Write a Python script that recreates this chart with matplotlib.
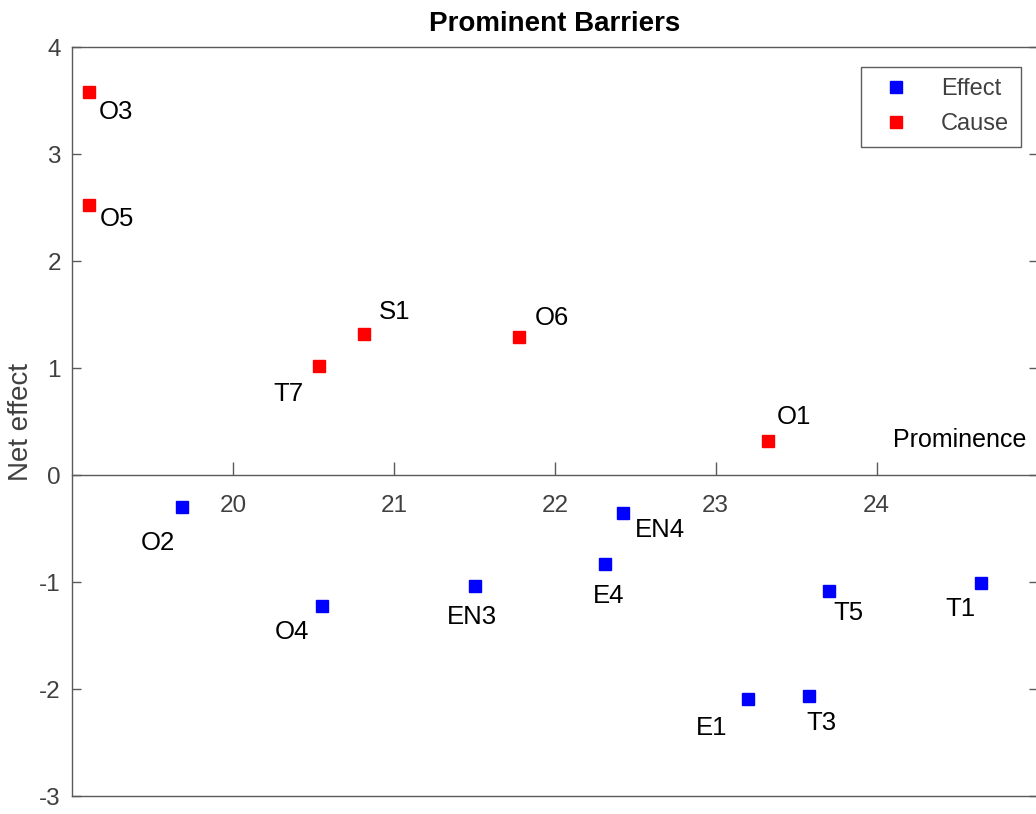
import matplotlib
matplotlib.use("Agg")
import matplotlib.pyplot as plt

# cause barriers (net effect > 0)
cause_names = ["O3", "O5", "S1", "T7", "O6", "O1"]
cause_prom = [19.108, 19.108, 20.816, 20.536, 21.778, 23.323]
cause_net = [3.582, 2.526, 1.323, 1.019, 1.295, 0.321]

# effect barriers (net effect < 0)
effect_names = ["O2", "O4", "EN3", "E4", "EN4", "E1", "T3", "T5", "T1"]
effect_prom = [19.683, 20.553, 21.504, 22.314, 22.422, 23.199, 23.580, 23.703, 24.647]
effect_net = [-0.296, -1.219, -1.032, -0.829, -0.355, -2.093, -2.063, -1.079, -1.004]

x_ticks = [20, 21, 22, 23, 24]
y_ticks = [-3, -2, -1, 0, 1, 2, 3, 4]

# label placement: (dx, dy) in pixels, horizontal alignment
label_pos = {
    "O3": (9, -20, "left"), "O5": (10, -14, "left"), "S1": (15, 22, "left"),
    "T7": (-16, -28, "right"), "O6": (16, 19, "left"), "O1": (9, 24, "left"),
    "O2": (-7, -36, "right"), "O4": (-13, -26, "right"), "EN3": (-3, -31, "center"),
    "E4": (3, -32, "center"), "EN4": (12, -17, "left"), "E1": (-20, -29, "right"),
    "T3": (-3, -27, "left"), "T5": (5, -22, "left"), "T1": (-5, -26, "right"),
}

narrow = ["Liberation Sans Narrow", "Liberation Sans", "DejaVu Sans"]
gray = "#5a5a5a"
txtgray = "#404040"

fig = plt.figure(figsize=(10.36, 8.14), dpi=100)
ax = fig.add_axes([0.0696, 0.0217, 0.9319, 0.9203])

ax.plot(effect_prom, effect_net, "s", color="blue", markersize=8.7, label="Effect", clip_on=False)
ax.plot(cause_prom, cause_net, "s", color="red", markersize=8.7, label="Cause", clip_on=False)

for names, xs, ys in [(cause_names, cause_prom, cause_net), (effect_names, effect_prom, effect_net)]:
    for n, x, y in zip(names, xs, ys):
        dx, dy, ha = label_pos[n]
        ax.annotate(n, (x, y), xytext=(dx * 0.72, dy * 0.72), textcoords="offset points",
                    ha=ha, va="center", fontsize=18.5, family=narrow, color="black")

ax.set_xlim(19, 25)
ax.set_ylim(-3, 4)

# x axis through the origin, box kept around
ax.spines["bottom"].set_position(("data", 0))
for s in ax.spines.values():
    s.set_color(gray)
    s.set_linewidth(1.0)
ax.axhline(-3, color=gray, lw=1.0, clip_on=False)

ax.set_xticks(x_ticks)
ax.set_xticklabels([str(t) for t in x_ticks], family=narrow)
ax.set_yticks(y_ticks)
ax.set_yticklabels([str(t) for t in y_ticks], family=narrow)
ax.tick_params(axis="x", direction="in", length=9.5, width=1, color=gray, labelsize=17.5,
               labelcolor=txtgray, pad=14, top=False)
ax.tick_params(axis="y", direction="in", length=6.5, width=1, color=gray, labelsize=17.5,
               labelcolor=txtgray, pad=8, right=True)

ax.set_title("Prominent Barriers", fontsize=20, fontweight="bold", family=narrow, pad=12)
ax.set_ylabel("Net effect", fontsize=20, color=txtgray, family=["Liberation Sans", "DejaVu Sans"], labelpad=4)
ax.text(0.9886, 0.476, "Prominence", transform=ax.transAxes, ha="right", va="center",
        fontsize=18, family=narrow, color="black")

leg = ax.legend(loc="upper right", bbox_to_anchor=(0.983, 0.974), frameon=True, fancybox=False,
                prop={"family": narrow, "size": 17}, handlelength=2.0, handletextpad=0.9,
                borderpad=0.5, labelspacing=0.55, borderaxespad=0)
leg.get_frame().set_edgecolor("#333333")
leg.get_frame().set_linewidth(1.0)
for t in leg.get_texts():
    t.set_color(txtgray)

fig.savefig("out.png", dpi=100)
